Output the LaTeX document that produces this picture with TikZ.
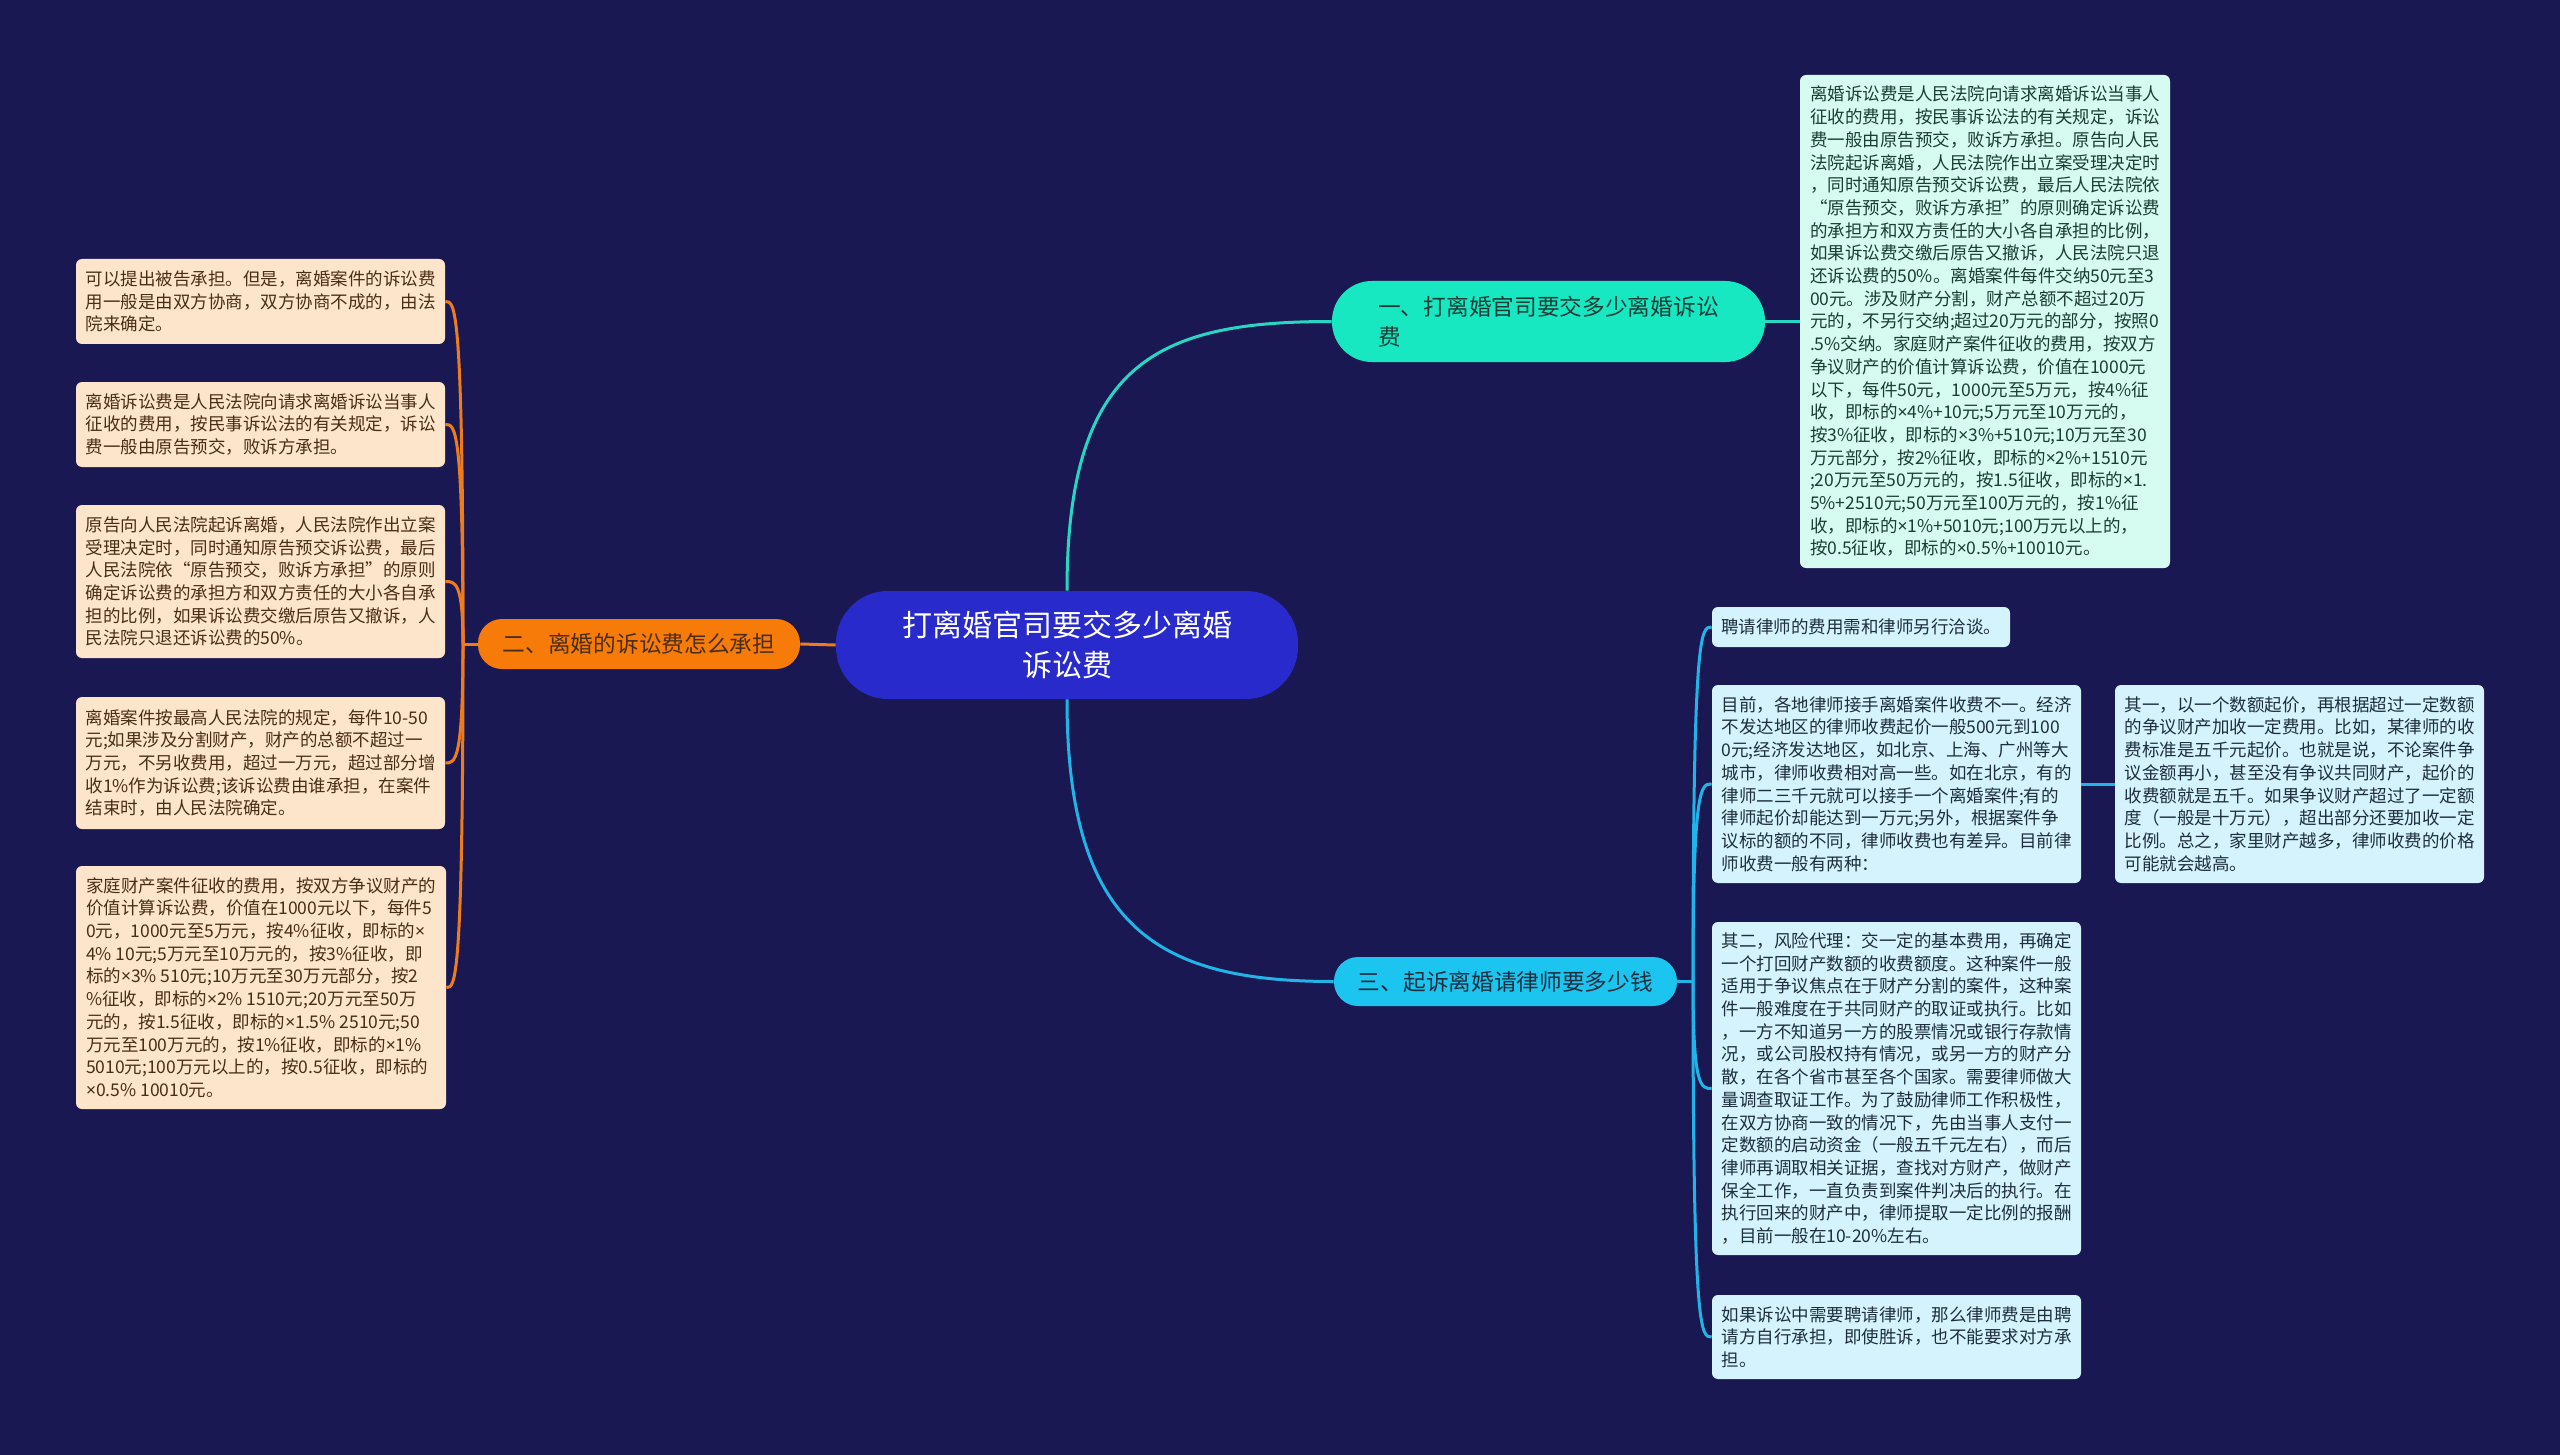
\documentclass[tikz,border=0pt]{standalone}
\usepackage{fontspec}
\newfontfamily\cjk{Noto Sans CJK SC}
\newfontfamily\latn{Noto Sans}
\newcommand{\tms}{{\latn ×}}
\definecolor{bgc}{RGB}{26,24,82}
\definecolor{centc}{RGB}{40,42,204}
\definecolor{mintc}{RGB}{24,232,194}
\definecolor{mintline}{RGB}{40,214,196}
\definecolor{mintbox}{RGB}{214,251,240}
\definecolor{orc}{RGB}{246,123,8}
\definecolor{orline}{RGB}{236,124,30}
\definecolor{peach}{RGB}{253,229,204}
\definecolor{skyc}{RGB}{28,196,240}
\definecolor{skyline}{RGB}{34,180,230}
\definecolor{cyanbox}{RGB}{212,243,252}
\definecolor{brownT}{RGB}{74,46,20}
\definecolor{tealT}{RGB}{28,60,54}
\definecolor{navyT}{RGB}{30,46,62}
\tikzset{
  leaf/.style={inner sep=0pt, rounded corners=3pt, align=left,
    font=\cjk\fontsize{8.75}{11.35}\selectfont},
  leafL/.style={leaf, fill=peach, text=brownT},
  leafT/.style={leaf, fill=mintbox, text=tealT},
  leafR/.style={leaf, fill=cyanbox, text=navyT},
  branchbox/.style={inner sep=0pt, rounded corners=12pt,
    font=\cjk\fontsize{11.35}{15}\selectfont},
  conn/.style={line width=1.5pt},
}
\begin{document}
\begin{tikzpicture}[x=0.5pt,y=-0.5pt]
\useasboundingbox (0,0) rectangle (2560,1455);
\fill[bgc] (0,0) rectangle (2560,1455);

% central
\node[fill=centc, text=white, rounded corners=26pt, inner sep=0pt, align=center,
  minimum width=462*0.5pt, minimum height=108*0.5pt,
  font=\cjk\fontsize{15}{20}\selectfont] (c) at (1067,645)
  {打离婚官司要交多少离婚\\诉讼费};

% branches
\node[branchbox, fill=mintc, text=tealT, align=left, rounded corners=20pt,
  minimum width=433*0.5pt, minimum height=81*0.5pt] (b1) at (1548.5,321.5)
  {一、打离婚官司要交多少离婚诉讼\\费};
\node[branchbox, fill=orc, text=brownT,
  minimum width=322*0.5pt, minimum height=50*0.5pt] (b2) at (639,644)
  {二、离婚的诉讼费怎么承担};
\node[branchbox, fill=skyc, text=navyT,
  minimum width=343*0.5pt, minimum height=49*0.5pt] (b3) at (1505.5,981.5)
  {三、起诉离婚请律师要多少钱};

% right top leaf
\node[leafT, minimum width=370*0.5pt, minimum height=493*0.5pt] (rt) at (1985,321.5)
{离婚诉讼费是人民法院向请求离婚诉讼当事人\\
征收的费用，按民事诉讼法的有关规定，诉讼\\
费一般由原告预交，败诉方承担。原告向人民\\
法院起诉离婚，人民法院作出立案受理决定时\\
，同时通知原告预交诉讼费，最后人民法院依\\
“原告预交，败诉方承担”的原则确定诉讼费\\
的承担方和双方责任的大小各自承担的比例，\\
如果诉讼费交缴后原告又撤诉，人民法院只退\\
还诉讼费的50\%。离婚案件每件交纳50元至3\\
00元。涉及财产分割，财产总额不超过20万\\
元的，不另行交纳;超过20万元的部分，按照0\\
.5\%交纳。家庭财产案件征收的费用，按双方\\
争议财产的价值计算诉讼费，价值在1000元\\
以下，每件50元，1000元至5万元，按4\%征\\
收，即标的\tms4\%+10元;5万元至10万元的，\\
按3\%征收，即标的\tms3\%+510元;10万元至30\\
万元部分，按2\%征收，即标的\tms2\%+1510元\\
;20万元至50万元的，按1.5征收，即标的\tms1.\\
5\%+2510元;50万元至100万元的，按1\%征\\
收，即标的\tms1\%+5010元;100万元以上的，\\
按0.5征收，即标的\tms0.5\%+10010元。};

% left leaves
\node[leafL, minimum width=369*0.5pt, minimum height=85*0.5pt] (l1) at (260.5,301.5)
{可以提出被告承担。但是，离婚案件的诉讼费\\
用一般是由双方协商，双方协商不成的，由法\\
院来确定。};
\node[leafL, minimum width=369*0.5pt, minimum height=85*0.5pt] (l2) at (260.5,424.5)
{离婚诉讼费是人民法院向请求离婚诉讼当事人\\
征收的费用，按民事诉讼法的有关规定，诉讼\\
费一般由原告预交，败诉方承担。};
\node[leafL, minimum width=369*0.5pt, minimum height=153*0.5pt] (l3) at (260.5,581.5)
{原告向人民法院起诉离婚，人民法院作出立案\\
受理决定时，同时通知原告预交诉讼费，最后\\
人民法院依“原告预交，败诉方承担”的原则\\
确定诉讼费的承担方和双方责任的大小各自承\\
担的比例，如果诉讼费交缴后原告又撤诉，人\\
民法院只退还诉讼费的50\%。};
\node[leafL, minimum width=369*0.5pt, minimum height=132*0.5pt] (l4) at (260.5,763)
{离婚案件按最高人民法院的规定，每件10-50\\
元;如果涉及分割财产，财产的总额不超过一\\
万元，不另收费用，超过一万元，超过部分增\\
收1\%作为诉讼费;该诉讼费由谁承担，在案件\\
结束时，由人民法院确定。};
\node[leafL, minimum width=370*0.5pt, minimum height=243*0.5pt] (l5) at (261,987.5)
{家庭财产案件征收的费用，按双方争议财产的\\
价值计算诉讼费，价值在1000元以下，每件5\\
0元，1000元至5万元，按4\%征收，即标的\tms\\
4\% 10元;5万元至10万元的，按3\%征收，即\\
标的\tms3\% 510元;10万元至30万元部分，按2\\
\%征收，即标的\tms2\% 1510元;20万元至50万\\
元的，按1.5征收，即标的\tms1.5\% 2510元;50\\
万元至100万元的，按1\%征收，即标的\tms1\%\\
5010元;100万元以上的，按0.5征收，即标的\\
\tms0.5\% 10010元。};

% right bottom leaves
\node[leafR, minimum width=298*0.5pt, minimum height=40*0.5pt] (ra) at (1861,627)
{聘请律师的费用需和律师另行洽谈。};
\node[leafR, minimum width=369*0.5pt, minimum height=198*0.5pt] (rb) at (1896.5,784)
{目前，各地律师接手离婚案件收费不一。经济\\
不发达地区的律师收费起价一般500元到100\\
0元;经济发达地区，如北京、上海、广州等大\\
城市，律师收费相对高一些。如在北京，有的\\
律师二三千元就可以接手一个离婚案件;有的\\
律师起价却能达到一万元;另外，根据案件争\\
议标的额的不同，律师收费也有差异。目前律\\
师收费一般有两种：};
\node[leafR, minimum width=369*0.5pt, minimum height=198*0.5pt] (rc) at (2299.5,784)
{其一，以一个数额起价，再根据超过一定数额\\
的争议财产加收一定费用。比如，某律师的收\\
费标准是五千元起价。也就是说，不论案件争\\
议金额再小，甚至没有争议共同财产，起价的\\
收费额就是五千。如果争议财产超过了一定额\\
度（一般是十万元），超出部分还要加收一定\\
比例。总之，家里财产越多，律师收费的价格\\
可能就会越高。};
\node[leafR, minimum width=369*0.5pt, minimum height=333*0.5pt] (rd) at (1896.5,1088.5)
{其二，风险代理：交一定的基本费用，再确定\\
一个打回财产数额的收费额度。这种案件一般\\
适用于争议焦点在于财产分割的案件，这种案\\
件一般难度在于共同财产的取证或执行。比如\\
，一方不知道另一方的股票情况或银行存款情\\
况，或公司股权持有情况，或另一方的财产分\\
散，在各个省市甚至各个国家。需要律师做大\\
量调查取证工作。为了鼓励律师工作积极性，\\
在双方协商一致的情况下，先由当事人支付一\\
定数额的启动资金（一般五千元左右），而后\\
律师再调取相关证据，查找对方财产，做财产\\
保全工作，一直负责到案件判决后的执行。在\\
执行回来的财产中，律师提取一定比例的报酬\\
，目前一般在10-20\%左右。};
\node[leafR, minimum width=369*0.5pt, minimum height=84*0.5pt] (re) at (1896.5,1337)
{如果诉讼中需要聘请律师，那么律师费是由聘\\
请方自行承担，即使胜诉，也不能要求对方承\\
担。};

% connectors
\coordinate (j2) at (463,644);
\coordinate (j3) at (1693,981.5);
\begin{scope}[conn]
\draw[mintline] (c.north) .. controls (1067,360) and (1160,321.5) .. (b1.west);
\draw[skyline] (c.south) .. controls (1067,930) and (1160,981.5) .. (b3.west);
\draw[mintline] (b1.east) -- (rt.west);
\draw[orline] (c.west) -- (b2.east);
\draw[orline] (b2.west) -- (j2);
\foreach \n/\yy in {l1/301.5,l2/424.5,l3/581.5,l4/763,l5/987.5}
  \draw[orline] (j2) .. controls (463,\yy) and (455,\yy) .. (\n.east);
\draw[skyline] (b3.east) -- (j3);
\foreach \n/\yy in {ra/627,rb/784,rd/1088.5,re/1337}
  \draw[skyline] (j3) .. controls (1693,\yy) and (1701,\yy) .. (\n.west);
\draw[skyline] (rb.east) -- (rc.west);
\end{scope}
\end{tikzpicture}
\end{document}
